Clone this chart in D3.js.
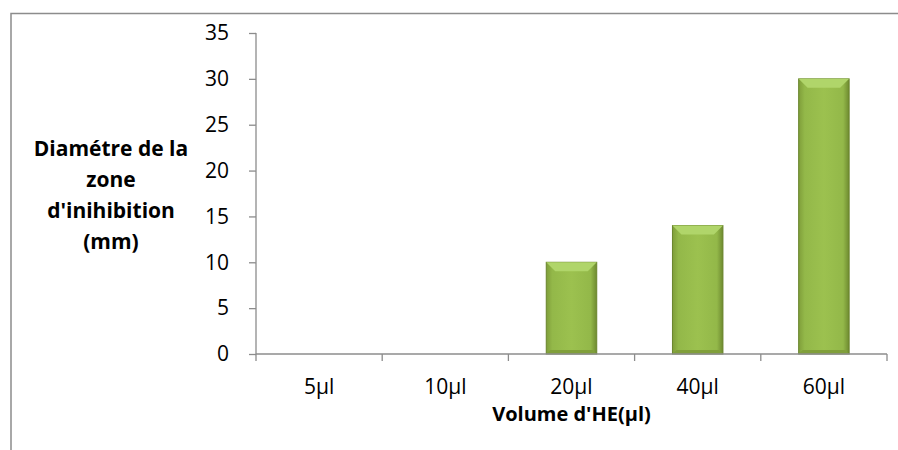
<!DOCTYPE html>
<html>
<head>
<meta charset="utf-8">
<script src="https://cdn.jsdelivr.net/npm/d3@7"></script>
<style>
  body { margin: 0; background: #fff; }
  text { font-family: "Open Sans", Lato, sans-serif; }
</style>
</head>
<body>
<div id="chart"></div>
<script>
// Chart data
var categories = ["5µl", "10µl", "20µl", "40µl", "60µl"];
var values = [0, 0, 10, 14, 30];
var yTicks = [0, 5, 10, 15, 20, 25, 30, 35];
var yTitleLines = ["Diamétre de la", "zone", "d'inihibition", "(mm)"];
var xTitle = "Volume d'HE(µl)";

var width = 898, height = 450;
var margin = { left: 256, right: 11, top: 33, bottom: 96 };

var svg = d3.select("#chart").append("svg")
    .attr("width", width)
    .attr("height", height);

// outer chart border (cut by the window at right and bottom)
svg.append("rect")
    .attr("x", 11).attr("y", 13.5)
    .attr("width", 1000).attr("height", 1000)
    .attr("fill", "none")
    .attr("stroke", "#8c8c8c")
    .attr("stroke-width", 1.5);

var x = d3.scaleBand()
    .domain(categories)
    .range([margin.left, width - margin.right])
    .paddingInner(0.6)
    .paddingOuter(0.3);

var y = d3.scaleLinear()
    .domain([0, 35])
    .range([height - margin.bottom, margin.top]);

// gradient for the bevelled bars
var defs = svg.append("defs");
var grad = defs.append("linearGradient").attr("id", "barGrad")
    .attr("x1", "0").attr("x2", "1").attr("y1", "0").attr("y2", "0");
grad.append("stop").attr("offset", "0").attr("stop-color", "#7f9e3a");
grad.append("stop").attr("offset", "0.12").attr("stop-color", "#93b849");
grad.append("stop").attr("offset", "0.5").attr("stop-color", "#9cc14f");
grad.append("stop").attr("offset", "0.88").attr("stop-color", "#93b849");
grad.append("stop").attr("offset", "1").attr("stop-color", "#6e8a30");

// bars
var bars = svg.selectAll("g.bar")
    .data(values.map((v, i) => ({ cat: categories[i], value: v })).filter(d => d.value > 0))
    .enter().append("g").attr("class", "bar");

bars.append("rect")
    .attr("x", d => x(d.cat))
    .attr("y", d => y(d.value))
    .attr("width", x.bandwidth())
    .attr("height", d => y(0) - y(d.value))
    .attr("fill", "url(#barGrad)")
    .attr("stroke", "#6a852c")
    .attr("stroke-width", 1);

// top bevel
bars.append("path")
    .attr("d", d => {
        var x0 = x(d.cat), x1 = x0 + x.bandwidth(), t = y(d.value), b = 9;
        return "M" + x0 + "," + t + "L" + x1 + "," + t + "L" + (x1 - b) + "," + (t + b) + "L" + (x0 + b) + "," + (t + b) + "Z";
    })
    .attr("fill", "#b0d56a");

// bottom bevel
bars.append("path")
    .attr("d", d => {
        var x0 = x(d.cat), x1 = x0 + x.bandwidth(), bt = y(0), b = 4;
        return "M" + x0 + "," + bt + "L" + x1 + "," + bt + "L" + (x1 - b) + "," + (bt - b) + "L" + (x0 + b) + "," + (bt - b) + "Z";
    })
    .attr("fill", "#809f3a");

// y axis
var yAxis = svg.append("g")
    .attr("transform", "translate(" + margin.left + ",0)")
    .call(d3.axisLeft(y).tickValues(yTicks).tickSize(7).tickPadding(20));
yAxis.selectAll("path, line").attr("stroke", "#8c8c8c").attr("stroke-width", 1.3);
yAxis.select(".domain").attr("d", "M0," + y(35) + "V" + y(0));
yAxis.selectAll("text")
    .attr("font-size", 21)
    .attr("fill", "#000")
    .style("font-family", "'Open Sans', sans-serif");

// x axis with ticks on the band boundaries
var xAxisG = svg.append("g").attr("transform", "translate(0," + y(0) + ")");
xAxisG.append("line")
    .attr("x1", margin.left).attr("x2", width - margin.right)
    .attr("stroke", "#8c8c8c").attr("stroke-width", 1.3);
var bounds = categories.map((c, i) => margin.left + i * (width - margin.right - margin.left) / categories.length);
bounds.push(width - margin.right);
xAxisG.selectAll("line.tick").data(bounds).enter().append("line")
    .attr("class", "tick")
    .attr("x1", d => d).attr("x2", d => d)
    .attr("y1", 0).attr("y2", 7)
    .attr("stroke", "#8c8c8c").attr("stroke-width", 1.3);
xAxisG.selectAll("text.lbl").data(categories).enter().append("text")
    .attr("class", "lbl")
    .attr("x", d => x(d) + x.bandwidth() / 2)
    .attr("y", 40)
    .attr("text-anchor", "middle")
    .attr("font-size", 21)
    .text(d => d);

// axis titles
svg.append("text")
    .attr("x", x("20µl") + x.bandwidth() / 2)
    .attr("y", 421)
    .attr("text-anchor", "middle")
    .attr("font-size", 20)
    .attr("font-weight", "bold")
    .text(xTitle);

svg.append("g").selectAll("text").data(yTitleLines).enter().append("text")
    .attr("x", 111)
    .attr("y", (d, i) => 156 + i * 31)
    .attr("text-anchor", "middle")
    .attr("font-size", 21)
    .attr("font-weight", "bold")
    .text(d => d);
</script>
</body>
</html>
